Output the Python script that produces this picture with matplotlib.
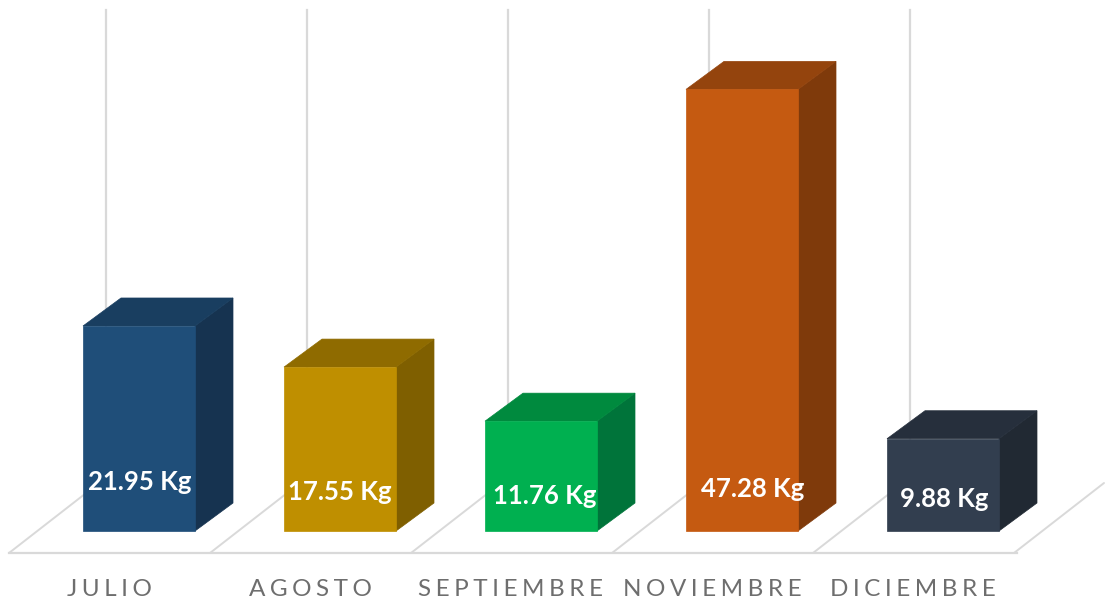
import matplotlib.pyplot as plt
from matplotlib.patches import Polygon

months = ['JULIO', 'AGOSTO', 'SEPTIEMBRE', 'NOVIEMBRE', 'DICIEMBRE']
values = [21.95, 17.55, 11.76, 47.28, 9.88]
value_labels = ['21.95 Kg', '17.55 Kg', '11.76 Kg', '47.28 Kg', '9.88 Kg']

front_colors = ['#1F4E79', '#BF8F00', '#00B050', '#C55A11', '#323E4F']
top_colors = ['#193E60', '#8F6B00', '#008A3E', '#94440D', '#262F3C']
side_colors = ['#163350', '#7F5F00', '#00743A', '#7F3A0B', '#212933']

# label heights above the floor, in chart units
label_heights = [5.22, 4.15, 3.72, 4.5, 3.4]
label_shift = [1, 0, 4, 11, 1]

PX_X = 1 / 201.0      # one pixel in category units
PX_Y = 1 / 9.34       # one pixel in kg units
BAR_W = 112 * PX_X
DEPTH_X = 38 * PX_X
DEPTH_Y = 28 * PX_Y

fig = plt.figure(figsize=(11.07, 6.03), dpi=100)
ax = fig.add_axes([0, 0, 1, 1])
ax.set_xlim(-139 * PX_X, (1107 - 139) * PX_X)
ax.set_ylim(-72 * PX_Y, 531 * PX_Y)
ax.axis('off')

grid_color = '#D9D9D9'
floor_y = -22 * PX_Y
back_y = 48 * PX_Y
top_y = 521 * PX_Y

# floor and walls
ax.plot([-130 * PX_X, 878 * PX_X], [floor_y, floor_y], color=grid_color, lw=1.6, zorder=1)
for i in range(6):
    x0 = i - 130 * PX_X
    ax.plot([x0, x0 + 90 * PX_X], [floor_y, back_y], color=grid_color, lw=1.4, zorder=1,
            solid_capstyle='round')
for i in range(5):
    gx = i - 33 * PX_X
    ax.plot([gx, gx], [back_y, top_y], color=grid_color, lw=1.6, zorder=1)

for i, v in enumerate(values):
    l = i - BAR_W / 2
    r = i + BAR_W / 2
    ax.add_patch(Polygon([(r, 0), (r + DEPTH_X, DEPTH_Y), (r + DEPTH_X, v + DEPTH_Y), (r, v)],
                         closed=True, fc=side_colors[i], ec=side_colors[i], lw=0.5, zorder=3))
    ax.add_patch(Polygon([(l, v), (r, v), (r + DEPTH_X, v + DEPTH_Y), (l + DEPTH_X, v + DEPTH_Y)],
                         closed=True, fc=top_colors[i], ec=top_colors[i], lw=0.5, zorder=3))
    ax.add_patch(Polygon([(l, 0), (r, 0), (r, v), (l, v)],
                         closed=True, fc=front_colors[i], ec=front_colors[i], lw=0.5, zorder=4))
    ax.text(i + label_shift[i] * PX_X, label_heights[i], value_labels[i], color='white',
            family=['Lato', 'DejaVu Sans'], weight='bold', fontsize=18.5, ha='center', va='center', zorder=5)

for i, m in enumerate(months):
    ax.text(i - 30 * PX_X, -58 * PX_Y, '\u200a\u200a\u200a'.join(m), color='#6E6E6E',
            family=['Lato', 'DejaVu Sans'], fontsize=17.5, ha='center', va='center')

fig.savefig('out.png', dpi=100)
